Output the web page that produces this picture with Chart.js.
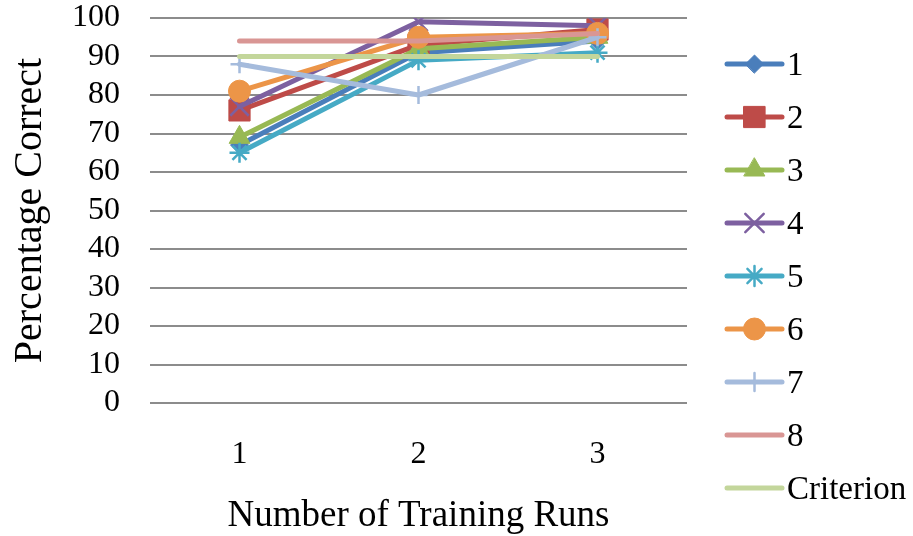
<!DOCTYPE html>
<html>
<head>
<meta charset="utf-8">
<script src="https://cdn.jsdelivr.net/npm/chart.js"></script>
<style>
  html, body { margin: 0; padding: 0; background: #fff; }
  #wrap { width: 913px; height: 536px; }
</style>
</head>
<body>
<div id="wrap"><canvas id="chart" width="913" height="536"></canvas></div>
<script>
let runs = ['1', '2', '3'];
let names = ['1', '2', '3', '4', '5', '6', '7', '8', 'Criterion'];
let s1 = [67, 91, 94];
let s2 = [76, 93, 97];
let s3 = [69, 92, 95];
let s4 = [77, 99, 98];
let s5 = [65, 89, 91];
let s6 = [81, 95, 96];
let s7 = [88, 80, 95];
let s8 = [94, 94, 96];
let criterion = [90, 90, 90];
let yTicks = [0, 10, 20, 30, 40, 50, 60, 70, 80, 90, 100];

let seriesData = [s1, s2, s3, s4, s5, s6, s7, s8, criterion];
let colors = ['#4a7ebb', '#be4b48', '#98b954', '#7d60a0', '#46aac5', '#ec9548', '#a5bbdc', '#d99694', '#c3d69b'];
let styles = ['rectRot', 'rect', 'triangle', 'crossRot', 'star', 'circle', 'cross', false, false];
let radii = [9, 15, 12, 13, 10, 11, 9, 0, 0];

let font = 'Liberation Serif';

function isStroke(st){
    return st === 'crossRot' || st === 'star' || st === 'cross';
}

let datasets = seriesData.map(function(d, i){
    return {
        label: names[i],
        data: d,
        borderColor: colors[i],
        backgroundColor: colors[i],
        borderWidth: 5,
        borderCapStyle: 'round',
        borderJoinStyle: 'round',
        pointStyle: styles[i],
        pointRadius: radii[i],
        pointHoverRadius: radii[i],
        pointBorderWidth: isStroke(styles[i]) ? 2.5 : 1,
        pointBackgroundColor: colors[i],
        pointBorderColor: colors[i],
        tension: 0,
        order: 20 - i
    };
});

// legend drawn by hand: line with marker in the middle, like the spreadsheet one
let legendPlugin = {
    id: 'sideLegend',
    afterDraw: function(chart){
        let ctx = chart.ctx;
        let x0 = 727, x1 = 782, top = 64, step = 53;
        names.forEach(function(name, i){
            let y = top + i * step;
            ctx.save();
            ctx.strokeStyle = colors[i];
            ctx.fillStyle = colors[i];
            ctx.lineWidth = 5;
            ctx.lineCap = 'round';
            ctx.beginPath();
            ctx.moveTo(x0, y);
            ctx.lineTo(x1, y);
            ctx.stroke();
            if (styles[i]) {
                ctx.lineWidth = isStroke(styles[i]) ? 2.5 : 1;
                Chart.helpers.drawPoint(ctx, {pointStyle: styles[i], radius: radii[i], rotation: 0, borderWidth: ctx.lineWidth}, (x0 + x1) / 2, y);
            }
            ctx.fillStyle = '#000';
            ctx.font = '33px "' + font + '"';
            ctx.textBaseline = 'middle';
            ctx.textAlign = 'left';
            ctx.fillText(name, 787, y + 2);
            ctx.restore();
        });
    }
};

let chart = new Chart(document.querySelector('#chart').getContext('2d'), {
    type: 'line',
    data: {
        labels: runs,
        datasets: datasets
    },
    options: {
        responsive: false,
        animation: false,
        layout: { padding: { top: 18, right: 226, left: 0, bottom: 0 } },
        plugins: {
            legend: { display: false },
            tooltip: { enabled: false }
        },
        scales: {
            x: {
                offset: true,
                grid: { display: false, drawTicks: false },
                border: { display: false },
                ticks: { color: '#000', font: { family: font, size: 32 }, padding: 32 },
                title: {
                    display: true,
                    text: 'Number of Training Runs',
                    color: '#000',
                    font: { family: font, size: 37, lineHeight: 1 },
                    padding: { top: 0, bottom: 1 }
                },
                afterFit: function(scale){ scale.height = 133; }
            },
            y: {
                min: 0,
                max: 100,
                afterBuildTicks: function(scale){
                    scale.ticks = yTicks.map(function(v){ return { value: v }; });
                },
                grid: { color: '#8c8c8c', lineWidth: 2, drawTicks: false },
                border: { display: false },
                ticks: { color: '#000', font: { family: font, size: 32 }, padding: 30, autoSkip: false },
                title: {
                    display: true,
                    text: 'Percentage Correct',
                    color: '#000',
                    font: { family: font, size: 40, lineHeight: 1 },
                    padding: { top: 10, bottom: 0 }
                },
                afterFit: function(scale){
                    scale.width = 150;
                    scale.paddingTop = 0;
                    scale.paddingBottom = 0;
                }
            }
        }
    },
    plugins: [legendPlugin]
});
</script>
</body>
</html>
